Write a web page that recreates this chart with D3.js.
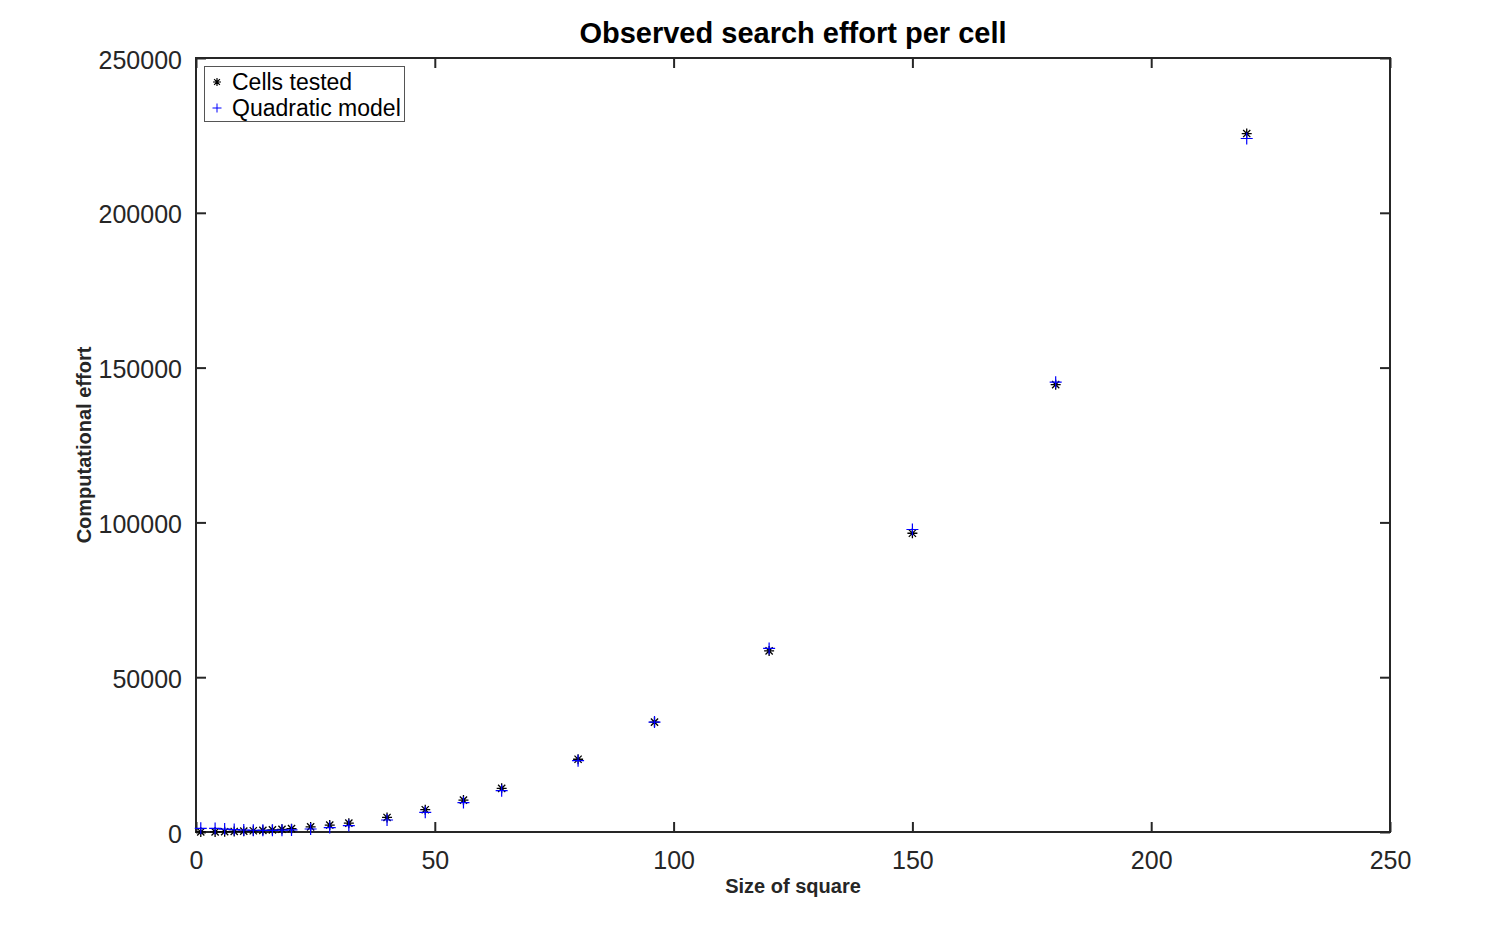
<!DOCTYPE html>
<html>
<head>
<meta charset="utf-8">
<script src="https://cdn.jsdelivr.net/npm/d3@7"></script>
<style>
  html, body { margin: 0; padding: 0; background: #fff; }
  svg { display: block; font-family: "Liberation Sans", Arial, Helvetica, sans-serif; }
</style>
</head>
<body>
<svg id="chart" width="1500" height="930"></svg>
<script>
const sizes = [1, 4, 6, 8, 10, 12, 14, 16, 18, 20, 24, 28, 32, 40, 48, 56, 64, 80, 96, 120, 150, 180, 220];
const cellsTested = [10, 40, 100, 180, 280, 400, 540, 700, 880, 1080, 1650, 2250, 2850, 4700, 7200, 10300, 14100, 23500, 35500, 58500, 96500, 144500, 225600];
const quadraticModel = [1200, 1150, 950, 780, 650, 570, 530, 530, 580, 670, 970, 1440, 2080, 3880, 6360, 9500, 13340, 23050, 35500, 59300, 97700, 145300, 224000];
const xTicks = [0, 50, 100, 150, 200, 250];
const yTicks = [0, 50000, 100000, 150000, 200000, 250000];
const seriesNames = ["Cells tested", "Quadratic model"];
const titleText = "Observed search effort per cell";
const xLabelText = "Size of square";
const yLabelText = "Computational effort";

const svg = d3.select("#chart");
const L = 196, R = 1390, T = 58, B = 832;
const axisColor = "#262626";

const x = d3.scaleLinear().domain([0, 250]).range([L, R]);
const y = d3.scaleLinear().domain([0, 250000]).range([B, T]);

const tickLen = 10;
const g = svg.append("g");

const axBottom = g.append("g").attr("transform", `translate(0,${B})`)
  .call(d3.axisBottom(x).tickValues(xTicks).tickSizeInner(-tickLen).tickSizeOuter(0).tickPadding(20).tickFormat(d3.format("d")));
const axTop = g.append("g").attr("transform", `translate(0,${T})`)
  .call(d3.axisTop(x).tickValues(xTicks).tickSizeInner(-tickLen).tickSizeOuter(0).tickFormat(""));
const axLeft = g.append("g").attr("transform", `translate(${L},0)`)
  .call(d3.axisLeft(y).tickValues(yTicks).tickSizeInner(-tickLen).tickSizeOuter(0).tickPadding(14).tickFormat(d3.format("d")));
const axRight = g.append("g").attr("transform", `translate(${R},0)`)
  .call(d3.axisRight(y).tickValues(yTicks).tickSizeInner(-tickLen).tickSizeOuter(0).tickFormat(""));

[axBottom, axTop, axLeft, axRight].forEach(a => {
  a.select(".domain").remove();
  a.selectAll(".tick line").attr("stroke", axisColor).attr("stroke-width", 2);
  a.selectAll(".tick text").attr("fill", "#262626").attr("font-size", 25)
    .attr("font-family", "'Liberation Sans', Arial, sans-serif");
});
axBottom.selectAll(".tick text").attr("dy", "0.71em").attr("y", 19);
axLeft.selectAll(".tick text").attr("dy", "0.4em");

g.append("rect").attr("x", L).attr("y", T).attr("width", R - L).attr("height", B - T)
  .attr("fill", "none").attr("stroke", axisColor).attr("stroke-width", 2);

const starSize = 5, plusSize = 6;
function starPath(cx, cy, s) {
  const d = s * 0.72;
  return `M${cx - s},${cy}L${cx + s},${cy}M${cx},${cy - s}L${cx},${cy + s}` +
         `M${cx - d},${cy - d}L${cx + d},${cy + d}M${cx - d},${cy + d}L${cx + d},${cy - d}`;
}
function plusPath(cx, cy, s) {
  return `M${cx - s},${cy}L${cx + s},${cy}M${cx},${cy - s}L${cx},${cy + s}`;
}

const plotG = svg.append("g");
plotG.selectAll("path.star").data(sizes.map((s, i) => [s, cellsTested[i]])).enter()
  .append("path").attr("class", "star")
  .attr("d", d => starPath(x(d[0]), y(d[1]), starSize))
  .attr("stroke", "#000").attr("stroke-width", 1.3).attr("fill", "none");
plotG.selectAll("path.plus").data(sizes.map((s, i) => [s, quadraticModel[i]])).enter()
  .append("path").attr("class", "plus")
  .attr("d", d => plusPath(x(d[0]), y(d[1]), plusSize))
  .attr("stroke", "#0000ff").attr("stroke-width", 1.2).attr("fill", "none");

svg.append("text").attr("x", (L + R) / 2).attr("y", 43).attr("text-anchor", "middle")
  .attr("font-size", 29).attr("font-weight", "bold").attr("fill", "#000").text(titleText);
svg.append("text").attr("x", (L + R) / 2).attr("y", 893).attr("text-anchor", "middle")
  .attr("font-size", 20).attr("font-weight", "bold").attr("fill", "#262626").text(xLabelText);
svg.append("text").attr("transform", `translate(91,${(T + B) / 2}) rotate(-90)`).attr("text-anchor", "middle")
  .attr("font-size", 20).attr("font-weight", "bold").attr("fill", "#262626").text(yLabelText);

const lg = svg.append("g");
lg.append("rect").attr("x", 204.5).attr("y", 66.5).attr("width", 200).attr("height", 55)
  .attr("fill", "#fff").attr("stroke", "#555").attr("stroke-width", 1);
const legendItems = [
  { name: seriesNames[0], type: "star", cy: 82 },
  { name: seriesNames[1], type: "plus", cy: 108 }
];
legendItems.forEach(it => {
  if (it.type === "star") {
    lg.append("path").attr("d", starPath(217, it.cy, 4)).attr("stroke", "#000").attr("stroke-width", 1.2).attr("fill", "none");
  } else {
    lg.append("path").attr("d", plusPath(217, it.cy, 4.5)).attr("stroke", "#0000ff").attr("stroke-width", 1).attr("fill", "none");
  }
  lg.append("text").attr("x", 232).attr("y", it.cy).attr("dy", "0.35em")
    .attr("font-size", 23).attr("fill", "#000").text(it.name);
});
</script>
</body>
</html>
